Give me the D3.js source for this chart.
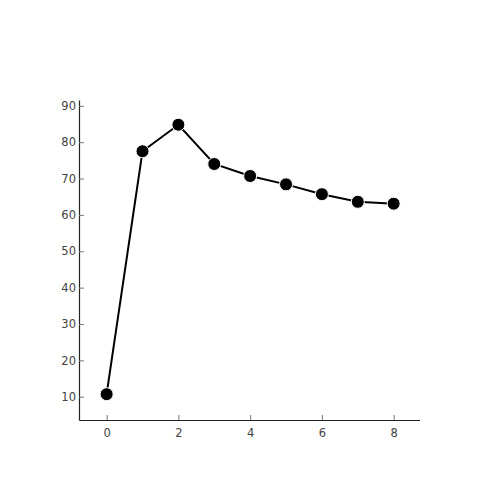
<!DOCTYPE html>
<html><head><meta charset="utf-8">
<script src="https://cdn.jsdelivr.net/npm/d3@7"></script>
<style>body{margin:0;background:#fff}svg{display:block}</style>
</head><body>
<svg id="c" width="500" height="500"></svg>
<script>
const xs = [0,1,2,3,4,5,6,7,8];
const ys = [10.7,77.5,84.8,74.0,70.7,68.4,65.7,63.6,63.1];
const xTicks = [0,2,4,6,8];
const yTicks = [10,20,30,40,50,60,70,80,90];

const svg = d3.select("#c");
const L=79, R=419.5, T=100, B=420;
const x = d3.scaleLinear().domain([-0.77,8.72]).range([L,R]);
const y = d3.scaleLinear().domain([3.6,91.6]).range([B,T]);
const font = "'DejaVu Sans', sans-serif";

const gx = svg.append("g").attr("transform",`translate(0,${B})`)
  .call(d3.axisBottom(x).tickValues(xTicks).tickSizeInner(-5).tickSizeOuter(0).tickPadding(9));
const gy = svg.append("g").attr("transform",`translate(${L},0)`)
  .call(d3.axisLeft(y).tickValues(yTicks).tickSizeInner(-5).tickSizeOuter(0).tickPadding(3));
[gx,gy].forEach(g=>{
  g.select(".domain").attr("stroke","#222").attr("stroke-width",1.2);
  g.selectAll(".tick line").attr("stroke","#777");
  g.selectAll(".tick text").attr("fill","#444").style("font-family",font).style("font-size","11.5px");
});

const data = xs.map((d,i)=>[d,ys[i]]);
svg.append("path").datum(data)
  .attr("fill","none").attr("stroke","#000").attr("stroke-width",2)
  .attr("d", d3.line().x(d=>x(d[0])).y(d=>y(d[1])));
svg.selectAll("circle.pt").data(data).join("circle").attr("class","pt")
  .attr("cx",d=>x(d[0])).attr("cy",d=>y(d[1])).attr("r",6.5)
  .attr("fill","#000").attr("stroke","#fff").attr("stroke-width",1);
</script>
</body></html>
